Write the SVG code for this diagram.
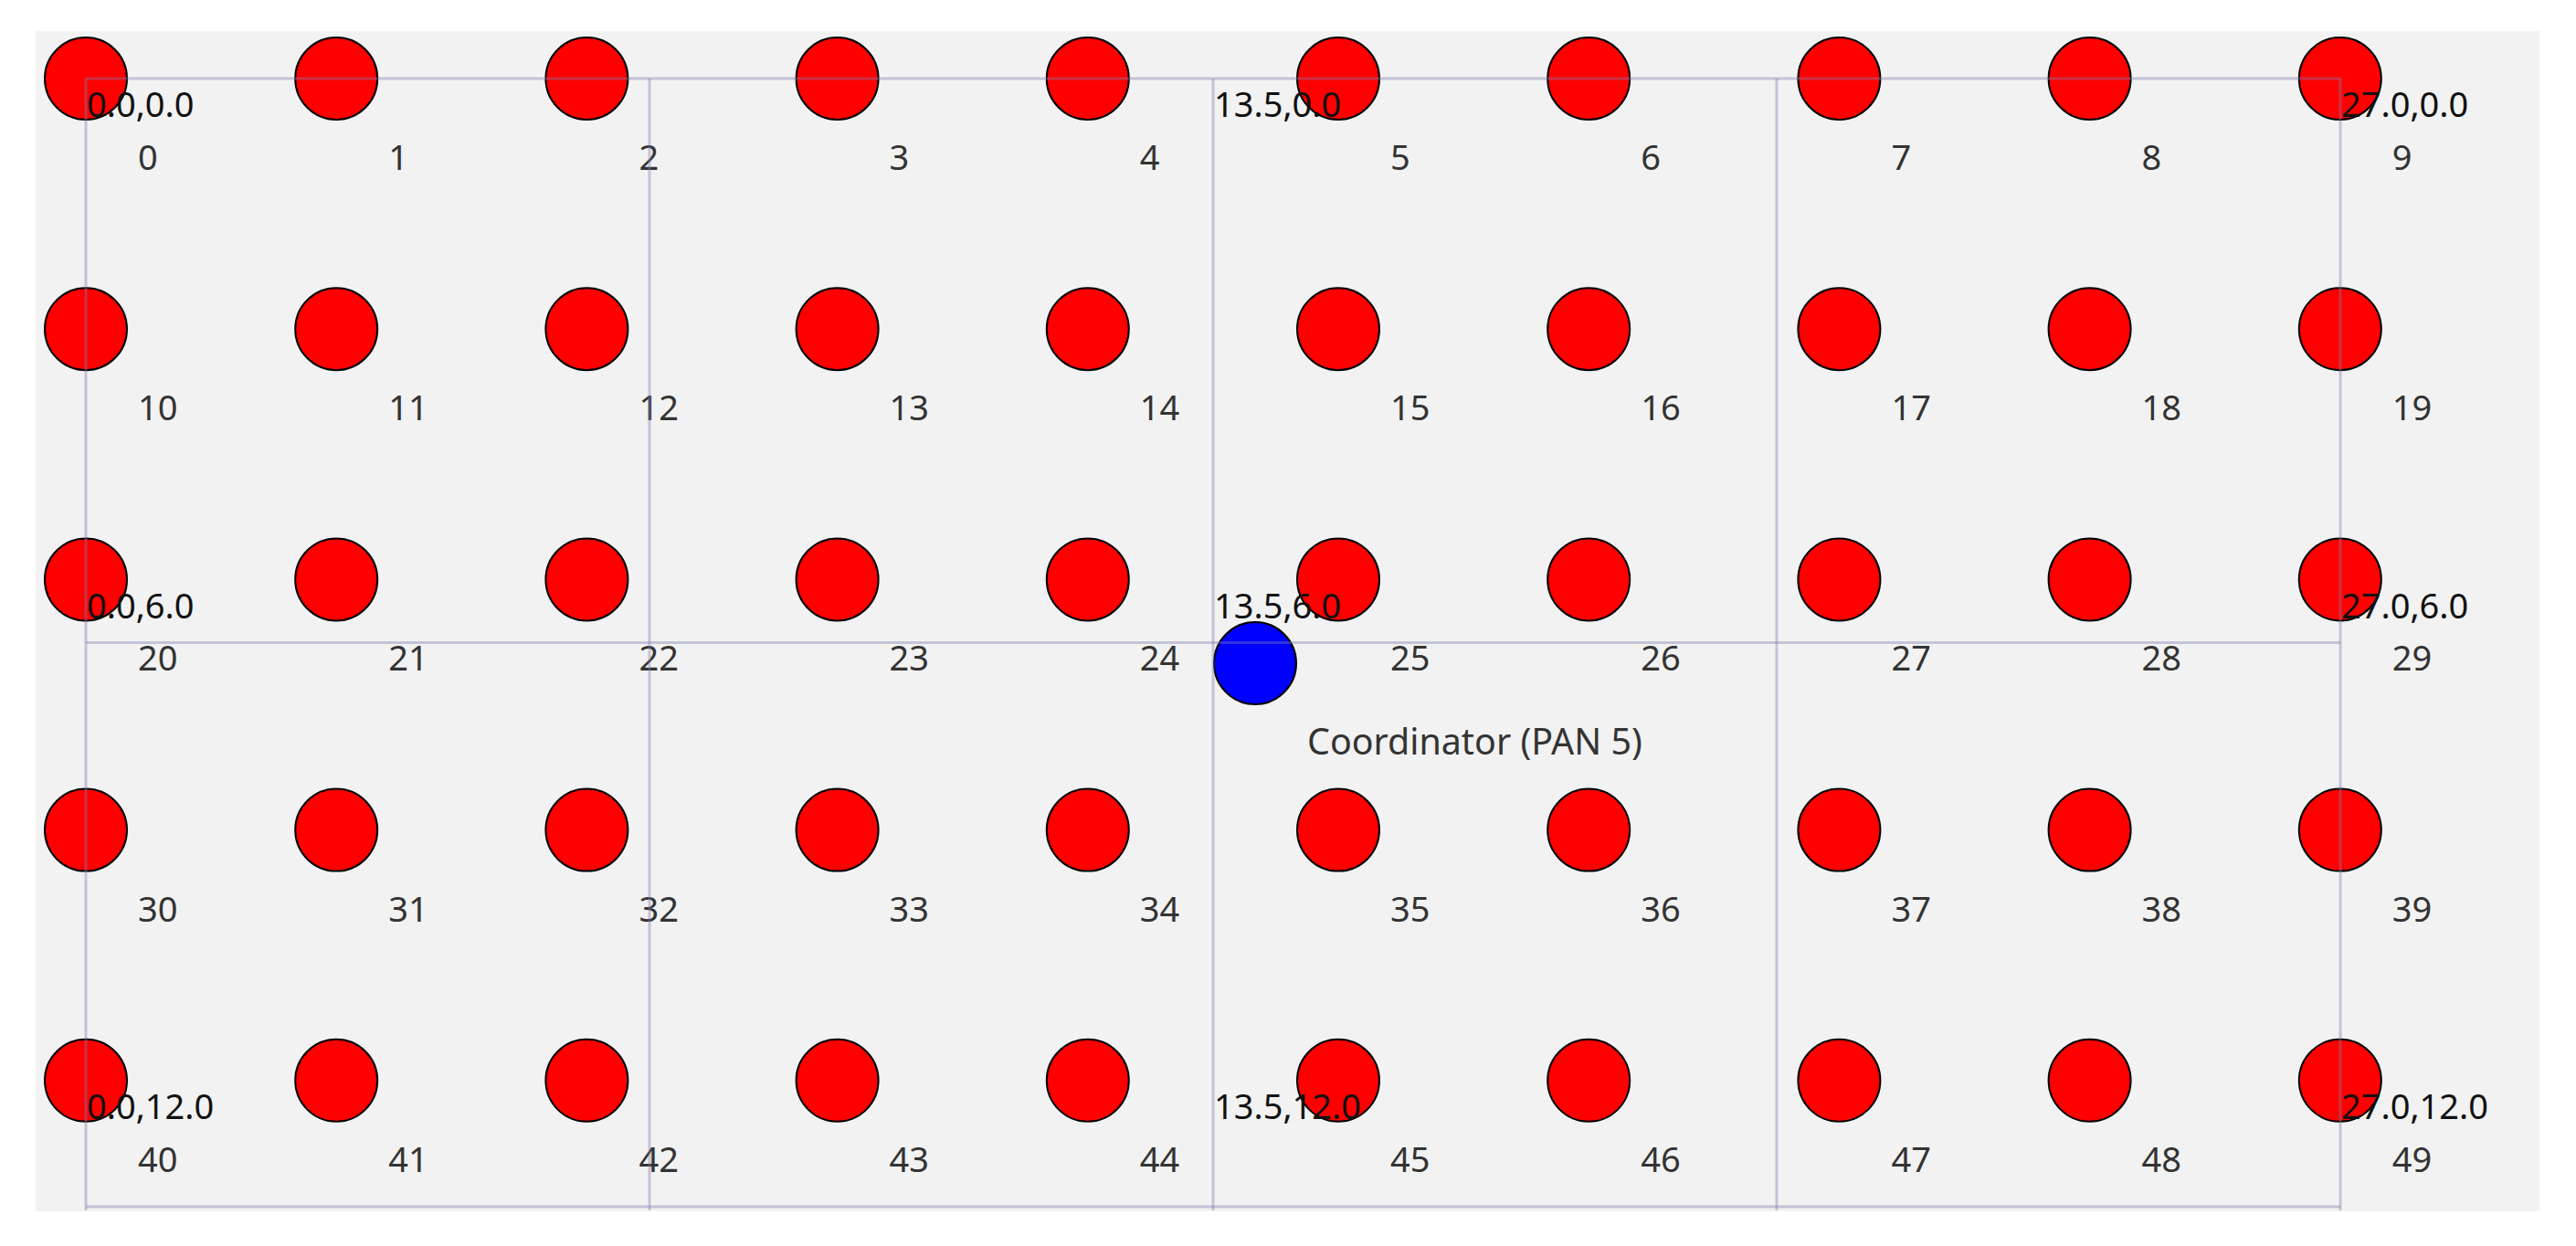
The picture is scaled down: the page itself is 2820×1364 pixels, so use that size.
<svg xmlns="http://www.w3.org/2000/svg" width="2820" height="1364" viewBox="0 0 2820 1364">
<style>
.n{fill:#ff0000;stroke:#000;stroke-width:2}
.c{fill:#0000ff;stroke:#000;stroke-width:2}
.lbl{font-family:"Noto Sans","Open Sans",sans-serif;font-size:38px;fill:#333}
.co{font-family:"Noto Sans","Open Sans",sans-serif;font-size:38px;fill:#111}
.g{stroke:#7c7cb0;stroke-opacity:0.4;stroke-width:3;fill:none}
</style>
<rect x="0" y="0" width="2820" height="1364" fill="#ffffff"/>
<rect x="39" y="34" width="2741" height="1292" fill="#f2f2f2"/>
<g id="nodes">
<g id="node0" transform="translate(94,86)"><circle class="n" r="45"/><text class="lbl" x="57" y="100">0</text></g>
<g id="node1" transform="translate(368.2,86)"><circle class="n" r="45"/><text class="lbl" x="57" y="100">1</text></g>
<g id="node2" transform="translate(642.4,86)"><circle class="n" r="45"/><text class="lbl" x="57" y="100">2</text></g>
<g id="node3" transform="translate(916.6,86)"><circle class="n" r="45"/><text class="lbl" x="57" y="100">3</text></g>
<g id="node4" transform="translate(1190.8,86)"><circle class="n" r="45"/><text class="lbl" x="57" y="100">4</text></g>
<g id="node5" transform="translate(1465,86)"><circle class="n" r="45"/><text class="lbl" x="57" y="100">5</text></g>
<g id="node6" transform="translate(1739.2,86)"><circle class="n" r="45"/><text class="lbl" x="57" y="100">6</text></g>
<g id="node7" transform="translate(2013.4,86)"><circle class="n" r="45"/><text class="lbl" x="57" y="100">7</text></g>
<g id="node8" transform="translate(2287.6,86)"><circle class="n" r="45"/><text class="lbl" x="57" y="100">8</text></g>
<g id="node9" transform="translate(2561.8,86)"><circle class="n" r="45"/><text class="lbl" x="57" y="100">9</text></g>
<g id="node10" transform="translate(94,360.2)"><circle class="n" r="45"/><text class="lbl" x="57" y="100">10</text></g>
<g id="node11" transform="translate(368.2,360.2)"><circle class="n" r="45"/><text class="lbl" x="57" y="100">11</text></g>
<g id="node12" transform="translate(642.4,360.2)"><circle class="n" r="45"/><text class="lbl" x="57" y="100">12</text></g>
<g id="node13" transform="translate(916.6,360.2)"><circle class="n" r="45"/><text class="lbl" x="57" y="100">13</text></g>
<g id="node14" transform="translate(1190.8,360.2)"><circle class="n" r="45"/><text class="lbl" x="57" y="100">14</text></g>
<g id="node15" transform="translate(1465,360.2)"><circle class="n" r="45"/><text class="lbl" x="57" y="100">15</text></g>
<g id="node16" transform="translate(1739.2,360.2)"><circle class="n" r="45"/><text class="lbl" x="57" y="100">16</text></g>
<g id="node17" transform="translate(2013.4,360.2)"><circle class="n" r="45"/><text class="lbl" x="57" y="100">17</text></g>
<g id="node18" transform="translate(2287.6,360.2)"><circle class="n" r="45"/><text class="lbl" x="57" y="100">18</text></g>
<g id="node19" transform="translate(2561.8,360.2)"><circle class="n" r="45"/><text class="lbl" x="57" y="100">19</text></g>
<g id="node20" transform="translate(94,634.4)"><circle class="n" r="45"/><text class="lbl" x="57" y="100">20</text></g>
<g id="node21" transform="translate(368.2,634.4)"><circle class="n" r="45"/><text class="lbl" x="57" y="100">21</text></g>
<g id="node22" transform="translate(642.4,634.4)"><circle class="n" r="45"/><text class="lbl" x="57" y="100">22</text></g>
<g id="node23" transform="translate(916.6,634.4)"><circle class="n" r="45"/><text class="lbl" x="57" y="100">23</text></g>
<g id="node24" transform="translate(1190.8,634.4)"><circle class="n" r="45"/><text class="lbl" x="57" y="100">24</text></g>
<g id="node25" transform="translate(1465,634.4)"><circle class="n" r="45"/><text class="lbl" x="57" y="100">25</text></g>
<g id="node26" transform="translate(1739.2,634.4)"><circle class="n" r="45"/><text class="lbl" x="57" y="100">26</text></g>
<g id="node27" transform="translate(2013.4,634.4)"><circle class="n" r="45"/><text class="lbl" x="57" y="100">27</text></g>
<g id="node28" transform="translate(2287.6,634.4)"><circle class="n" r="45"/><text class="lbl" x="57" y="100">28</text></g>
<g id="node29" transform="translate(2561.8,634.4)"><circle class="n" r="45"/><text class="lbl" x="57" y="100">29</text></g>
<g id="node30" transform="translate(94,908.6)"><circle class="n" r="45"/><text class="lbl" x="57" y="100">30</text></g>
<g id="node31" transform="translate(368.2,908.6)"><circle class="n" r="45"/><text class="lbl" x="57" y="100">31</text></g>
<g id="node32" transform="translate(642.4,908.6)"><circle class="n" r="45"/><text class="lbl" x="57" y="100">32</text></g>
<g id="node33" transform="translate(916.6,908.6)"><circle class="n" r="45"/><text class="lbl" x="57" y="100">33</text></g>
<g id="node34" transform="translate(1190.8,908.6)"><circle class="n" r="45"/><text class="lbl" x="57" y="100">34</text></g>
<g id="node35" transform="translate(1465,908.6)"><circle class="n" r="45"/><text class="lbl" x="57" y="100">35</text></g>
<g id="node36" transform="translate(1739.2,908.6)"><circle class="n" r="45"/><text class="lbl" x="57" y="100">36</text></g>
<g id="node37" transform="translate(2013.4,908.6)"><circle class="n" r="45"/><text class="lbl" x="57" y="100">37</text></g>
<g id="node38" transform="translate(2287.6,908.6)"><circle class="n" r="45"/><text class="lbl" x="57" y="100">38</text></g>
<g id="node39" transform="translate(2561.8,908.6)"><circle class="n" r="45"/><text class="lbl" x="57" y="100">39</text></g>
<g id="node40" transform="translate(94,1182.8)"><circle class="n" r="45"/><text class="lbl" x="57" y="100">40</text></g>
<g id="node41" transform="translate(368.2,1182.8)"><circle class="n" r="45"/><text class="lbl" x="57" y="100">41</text></g>
<g id="node42" transform="translate(642.4,1182.8)"><circle class="n" r="45"/><text class="lbl" x="57" y="100">42</text></g>
<g id="node43" transform="translate(916.6,1182.8)"><circle class="n" r="45"/><text class="lbl" x="57" y="100">43</text></g>
<g id="node44" transform="translate(1190.8,1182.8)"><circle class="n" r="45"/><text class="lbl" x="57" y="100">44</text></g>
<g id="node45" transform="translate(1465,1182.8)"><circle class="n" r="45"/><text class="lbl" x="57" y="100">45</text></g>
<g id="node46" transform="translate(1739.2,1182.8)"><circle class="n" r="45"/><text class="lbl" x="57" y="100">46</text></g>
<g id="node47" transform="translate(2013.4,1182.8)"><circle class="n" r="45"/><text class="lbl" x="57" y="100">47</text></g>
<g id="node48" transform="translate(2287.6,1182.8)"><circle class="n" r="45"/><text class="lbl" x="57" y="100">48</text></g>
<g id="node49" transform="translate(2561.8,1182.8)"><circle class="n" r="45"/><text class="lbl" x="57" y="100">49</text></g>
<g id="coordinator" transform="translate(1374,726)"><circle class="c" r="45"/><text class="lbl" x="57" y="100" style="font-size:39.4px">Coordinator (PAN 5)</text></g>
</g>
<g id="grid">
<line class="g" x1="94" y1="86" x2="2562" y2="86"/>
<line class="g" x1="94" y1="703.5" x2="2562" y2="703.5"/>
<line class="g" x1="94" y1="1321" x2="2562" y2="1321"/>
<line class="g" x1="94" y1="86" x2="94" y2="1325"/>
<line class="g" x1="711" y1="86" x2="711" y2="1325"/>
<line class="g" x1="1328" y1="86" x2="1328" y2="1325"/>
<line class="g" x1="1945" y1="86" x2="1945" y2="1325"/>
<line class="g" x1="2562" y1="86" x2="2562" y2="1325"/>
</g>
<g id="coords">
<text class="co" x="95" y="128">0.0,0.0</text>
<text class="co" x="1329" y="128">13.5,0.0</text>
<text class="co" x="2563" y="128">27.0,0.0</text>
<text class="co" x="95" y="676.5">0.0,6.0</text>
<text class="co" x="1329" y="676.5">13.5,6.0</text>
<text class="co" x="2563" y="676.5">27.0,6.0</text>
<text class="co" x="95" y="1225">0.0,12.0</text>
<text class="co" x="1329" y="1225">13.5,12.0</text>
<text class="co" x="2563" y="1225">27.0,12.0</text>
</g>
</svg>
